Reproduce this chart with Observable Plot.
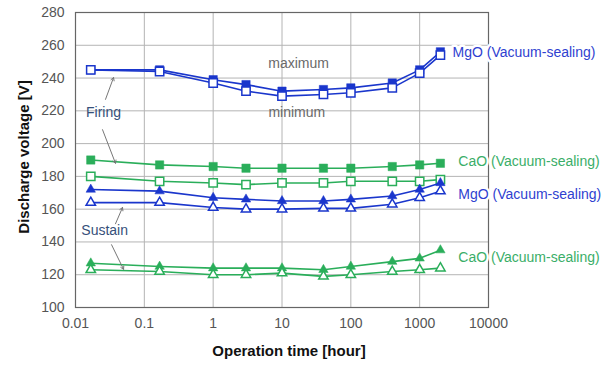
<!DOCTYPE html>
<html>
<head>
<meta charset="utf-8">
<script src="https://cdn.jsdelivr.net/npm/d3@7"></script>
<script src="https://cdn.jsdelivr.net/npm/@observablehq/plot@0.6"></script>
<style>
  html, body { margin: 0; padding: 0; background: #fff; }
  #chart { width: 614px; height: 367px; }
</style>
</head>
<body>
<div id="chart"></div>
<script>
// Operation time [hour]
const times = [1/60, 1/6, 1, 3, 10, 40, 100, 400, 1000, 2000];
const xTicks = [0.01, 0.1, 1, 10, 100, 1000, 10000];
const yTicks = [100, 120, 140, 160, 180, 200, 220, 240, 260, 280];

// Firing voltage
const firingMgOMax = [245, 245, 239, 236, 232, 233, 234, 237, 245, 256];
const firingMgOMin = [245, 244, 237, 232, 229, 230, 231, 234, 243, 254];
const firingCaOMax = [190, 187, 186, 185, 185, 185, 185, 186, 187, 188];
const firingCaOMin = [180, 177, 176, 175, 176, 176, 177, 177, 177, 178];
// Sustain voltage
const sustainMgOMax = [172, 171, 167, 166, 165, 165, 166, 168, 172, 176];
const sustainMgOMin = [164, 164, 161, 160, 160, 160.5, 160.5, 163, 167, 171];
const sustainCaOMax = [127, 125, 124, 124, 124, 123, 125, 128, 130, 135];
const sustainCaOMin = [123, 122, 120, 120, 121, 119, 120, 122, 123, 124];

const blue = "#1a36cc";
const green = "#2aae5a";

const seriesDefs = [
  {name: "firingMgOMax", values: firingMgOMax, color: blue, symbol: "square", filled: true},
  {name: "firingMgOMin", values: firingMgOMin, color: blue, symbol: "square", filled: false},
  {name: "firingCaOMax", values: firingCaOMax, color: green, symbol: "square", filled: true},
  {name: "firingCaOMin", values: firingCaOMin, color: green, symbol: "square", filled: false},
  {name: "sustainMgOMax", values: sustainMgOMax, color: blue, symbol: "triangle", filled: true},
  {name: "sustainMgOMin", values: sustainMgOMin, color: blue, symbol: "triangle", filled: false},
  {name: "sustainCaOMax", values: sustainCaOMax, color: green, symbol: "triangle", filled: true},
  {name: "sustainCaOMin", values: sustainCaOMin, color: green, symbol: "triangle", filled: false}
];

// Annotation labels (data coordinates)
const seriesLabels = [
  {x: 3000, y: 255.6, text: "MgO (Vacuum-sealing)", color: "#2f3fd0"},
  {x: 3650, y: 189, text: "CaO (Vacuum-sealing)", color: "#3aae68"},
  {x: 3650, y: 169, text: "MgO (Vacuum-sealing)", color: "#2f3fd0"},
  {x: 3650, y: 130.4, text: "CaO (Vacuum-sealing)", color: "#3aae68"}
];
const groupLabels = [
  {x: 0.0255, y: 219, text: "Firing"},
  {x: 0.0265, y: 147, text: "Sustain"}
];
const rangeLabels = [
  {x: 17.4, y: 249, text: "maximum"},
  {x: 16.4, y: 219, text: "minimum"}
];
const arrows = [
  {x1: 0.0273, y1: 227, x2: 0.0357, y2: 240.3},
  {x1: 0.0247, y1: 208.5, x2: 0.0381, y2: 188},
  {x1: 0.0381, y1: 151.1, x2: 0.0482, y2: 161},
  {x1: 0.0334, y1: 138.3, x2: 0.0499, y2: 123.3}
];

const marks = [
  Plot.gridX(xTicks, {stroke: "#b4b4b4", strokeOpacity: 1, strokeWidth: 1}),
  Plot.gridY(yTicks, {stroke: "#b4b4b4", strokeOpacity: 1, strokeWidth: 1}),
  Plot.frame({stroke: "#666", strokeWidth: 1.2}),
  Plot.axisX({ticks: xTicks, tickFormat: d => String(d), tickSize: 0, tickPadding: 11,
    fontSize: 14, fill: "#555", label: null}),
  Plot.axisY({ticks: yTicks, tickFormat: d => String(d), tickSize: 0, tickPadding: 11,
    fontSize: 14, fill: "#555", label: null}),
  Plot.text(["Operation time [hour]"], {frameAnchor: "bottom", dy: 48, dx: 7, text: d => d,
    fontSize: 15, fontWeight: "bold", fill: "#111", textAnchor: "middle"}),
  Plot.text(["Discharge voltage [V]"], {frameAnchor: "left", dx: -51, dy: -3, rotate: -90, text: d => d,
    fontSize: 15, fontWeight: "bold", fill: "#111", textAnchor: "middle"})
];

for (const s of seriesDefs) {
  const rows = times.map((t, i) => ({t, v: s.values[i]}));
  marks.push(Plot.line(rows, {x: "t", y: "v", stroke: s.color, strokeWidth: 1.6}));
  marks.push(Plot.dot(rows, {
    x: "t", y: "v", symbol: s.symbol,
    r: s.symbol === "square" ? 4.7 : 3.5,
    fill: s.filled ? s.color : "#fff",
    stroke: s.color, strokeWidth: s.filled ? 0.5 : 1.5
  }));
}

marks.push(
  Plot.arrow(arrows, {x1: "x1", y1: "y1", x2: "x2", y2: "y2", stroke: "#777", strokeWidth: 1,
    headLength: 5, bend: 0}),
  Plot.text(seriesLabels, {x: "x", y: "y", text: "text", fill: "color", fontSize: 14,
    textAnchor: "start", stroke: "#fff", strokeWidth: 5, paintOrder: "stroke"}),
  Plot.text(groupLabels, {x: "x", y: "y", text: "text", fill: "#36507a", fontSize: 14,
    textAnchor: "middle"}),
  Plot.text(rangeLabels, {x: "x", y: "y", text: "text", fill: "#6a6a6a", fontSize: 14,
    textAnchor: "middle"})
);

const chart = Plot.plot({
  width: 614,
  height: 367,
  marginLeft: 75,
  marginRight: 126,
  marginTop: 12,
  marginBottom: 60,
  style: {fontFamily: "'Liberation Sans', Arial, sans-serif", background: "#fff", overflow: "visible"},
  x: {type: "log", domain: [0.01, 10000]},
  y: {domain: [100, 280]},
  marks
});
document.getElementById("chart").appendChild(chart);
</script>
</body>
</html>
